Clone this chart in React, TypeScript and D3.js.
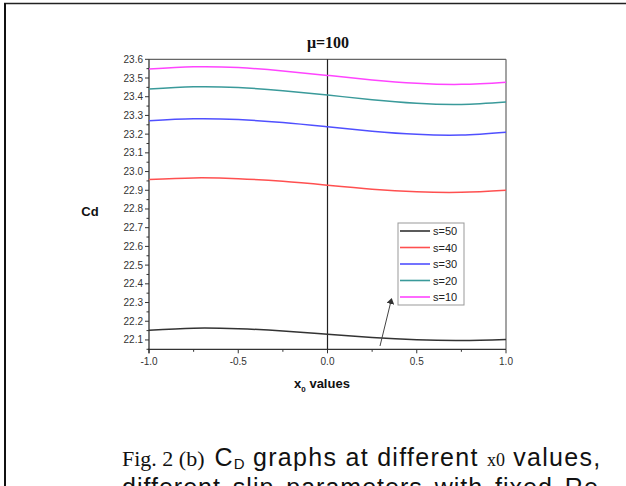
import React from "react";
import * as d3 from "d3";

const xs = [-1, -0.75, -0.5, -0.25, 0, 0.25, 0.5, 0.75, 1];
const seriesNames = ["s=50", "s=40", "s=30", "s=20", "s=10"];
const s50 = [22.152, 22.163, 22.16, 22.148, 22.13, 22.113, 22.101, 22.097, 22.103];
const s40 = [22.958, 22.966, 22.962, 22.948, 22.927, 22.906, 22.892, 22.889, 22.9];
const s30 = [23.272, 23.282, 23.278, 23.262, 23.239, 23.216, 23.199, 23.195, 23.21];
const s20 = [23.441, 23.453, 23.449, 23.432, 23.409, 23.384, 23.365, 23.359, 23.372];
const s10 = [23.548, 23.56, 23.556, 23.538, 23.514, 23.49, 23.472, 23.466, 23.478];
const seriesValues = [s50, s40, s30, s20, s10];
const seriesColors = ["#333333", "#ff5050", "#5050ff", "#3a9a9a", "#ff44ff"];
const xTicks = [-1, -0.5, 0, 0.5, 1];
const xMinor = [-0.75, -0.25, 0.25, 0.75];
const yTicks = [22.1, 22.2, 22.3, 22.4, 22.5, 22.6, 22.7, 22.8, 22.9, 23.0, 23.1, 23.2, 23.3, 23.4, 23.5, 23.6];
const yMinor = [22.05, 22.15, 22.25, 22.35, 22.45, 22.55, 22.65, 22.75, 22.85, 22.95, 23.05, 23.15, 23.25, 23.35, 23.45, 23.55];

const L = 149, R = 506, T = 59.3, B = 349.3;

export default function App() {
  const x = d3.scaleLinear().domain([-1, 1]).range([L, R]);
  const y = d3.scaleLinear().domain([22.05, 23.6]).range([B, T]);
  const line = d3
    .line<number>()
    .x((_, i) => x(xs[i]))
    .y((d) => y(d))
    .curve(d3.curveNatural);
  const sans = "'Liberation Sans', Arial, sans-serif";
  const serif = "'Liberation Serif', 'Times New Roman', serif";
  return (
    <svg
      width={626}
      height={486}
      style={{ position: "absolute", left: 0, top: 0, background: "#fff" }}
    >
      <rect x={0} y={0} width={626} height={486} fill="#fff" />
      {/* outer frame */}
      <line x1={4} y1={3.5} x2={626} y2={3.5} stroke="#222" strokeWidth={1.6} />
      <line x1={5} y1={3} x2={5} y2={486} stroke="#111" strokeWidth={2} />

      {/* title */}
      <text x={328} y={48} textAnchor="middle" fontFamily={serif} fontWeight="bold" fontSize={16} fill="#111">
        μ=100
      </text>

      {/* plot frame */}
      <line x1={L} y1={T} x2={R} y2={T} stroke="#666" strokeWidth={1.2} />
      <line x1={R} y1={T} x2={R} y2={B} stroke="#666" strokeWidth={1.2} />
      <line x1={L} y1={T} x2={L} y2={B + 4} stroke="#333" strokeWidth={1.3} />
      <line x1={L - 1} y1={B} x2={R} y2={B} stroke="#333" strokeWidth={1.3} />
      <line x1={x(0)} y1={T} x2={x(0)} y2={B} stroke="#222" strokeWidth={1.2} />

      {/* y ticks */}
      {yTicks.map((t) => (
        <g key={"y" + t}>
          <line x1={L - 4} x2={L} y1={y(t)} y2={y(t)} stroke="#333" strokeWidth={1} />
          <text x={L - 6} y={y(t) + 3.5} textAnchor="end" fontFamily={sans} fontSize={10} fill="#333">
            {t.toFixed(1)}
          </text>
        </g>
      ))}
      {yMinor.map((t) => (
        <line key={"ym" + t} x1={L - 2.5} x2={L} y1={y(t)} y2={y(t)} stroke="#333" strokeWidth={1} />
      ))}
      {/* x ticks */}
      {xTicks.map((t) => (
        <g key={"x" + t}>
          <line x1={x(t)} x2={x(t)} y1={B} y2={B + 4} stroke="#333" strokeWidth={1} />
          <text x={x(t)} y={B + 16} textAnchor="middle" fontFamily={sans} fontSize={10} fill="#333">
            {t.toFixed(1)}
          </text>
        </g>
      ))}
      {xMinor.map((t) => (
        <line key={"xm" + t} x1={x(t)} x2={x(t)} y1={B} y2={B + 2.5} stroke="#333" strokeWidth={1} />
      ))}

      {/* axis labels */}
      <text x={90} y={216} textAnchor="middle" fontFamily={sans} fontWeight="bold" fontSize={13} fill="#111">
        Cd
      </text>
      <text x={322} y={388} textAnchor="middle" fontFamily={sans} fontWeight="bold" fontSize={13} fill="#111">
        x
        <tspan fontSize={8} dy={4}>0</tspan>
        <tspan dy={-4}> values</tspan>
      </text>

      {/* curves */}
      {seriesValues.map((vals, i) => (
        <path key={seriesNames[i]} d={line(vals) || ""} fill="none" stroke={seriesColors[i]} strokeWidth={1.5} />
      ))}

      {/* legend */}
      <rect x={398} y={223} width={66} height={82} fill="#fff" stroke="#999" strokeWidth={1} />
      {seriesNames.map((n, i) => {
        const ly = 231 + i * 16.5;
        return (
          <g key={"lg" + n}>
            <line x1={400} x2={430} y1={ly} y2={ly} stroke={seriesColors[i]} strokeWidth={1.6} />
            <text x={433} y={ly + 4} fontFamily={sans} fontSize={11} fill="#222">
              {n}
            </text>
          </g>
        );
      })}

      {/* arrow */}
      <defs>
        <marker id="ah" markerWidth={6} markerHeight={8} refX={5} refY={4} orient="auto" markerUnits="userSpaceOnUse">
          <path d="M0,0 L6,4 L0,8 Z" fill="#333" />
        </marker>
      </defs>
      <line x1={380} y1={346} x2={391.5} y2={299} stroke="#444" strokeWidth={1} markerEnd="url(#ah)" />

      {/* caption */}
      <text x={122} y={466} fontFamily={serif} fontSize={22} fill="#111">
        Fig. 2 (b)
        <tspan fontFamily={sans} fontSize={25} dx={10} letterSpacing={1.3}>C</tspan>
        <tspan fontFamily={sans} fontSize={15} dy={3}>D</tspan>
        <tspan fontFamily={sans} fontSize={25} dy={-3} letterSpacing={1.3}> graphs at different </tspan>
        <tspan fontFamily={serif} fontSize={18}>x0</tspan>
        <tspan fontFamily={sans} fontSize={25} letterSpacing={1.3}> values,</tspan>
      </text>
      <text x={122} y={496} fontFamily={sans} fontSize={25} fill="#111" letterSpacing={1} wordSpacing={4}>
        different slip parameters with fixed Re
      </text>
    </svg>
  );
}
